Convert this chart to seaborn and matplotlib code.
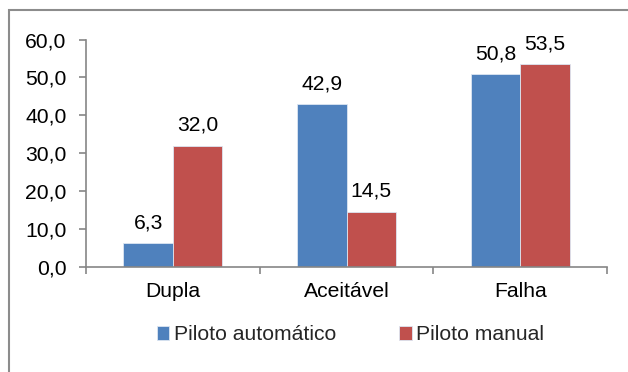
import matplotlib
matplotlib.use("Agg")
import matplotlib.pyplot as plt
from matplotlib.patches import Rectangle
from matplotlib.ticker import FuncFormatter, FixedLocator
import seaborn as sns
import pandas as pd

categories = ["Dupla", "Aceitável", "Falha"]
series_names = ["Piloto automático", "Piloto manual"]
automatico = [6.3, 42.9, 50.8]
manual = [32.0, 14.5, 53.5]
y_ticks = [0, 10, 20, 30, 40, 50, 60]

df = pd.DataFrame({
    "categoria": categories * 2,
    "serie": [series_names[0]] * 3 + [series_names[1]] * 3,
    "valor": automatico + manual,
})

sns.set_theme(style="white")
plt.rcParams["font.family"] = ["Liberation Sans", "DejaVu Sans"]
FS = 15.2

fig = plt.figure(figsize=(6.28, 3.72), dpi=100)
ax = fig.add_axes([86 / 628, 105 / 372, (607 - 86) / 628, (332.5 - 105) / 372])

palette = {series_names[0]: "#4F81BD", series_names[1]: "#C0504D"}
sns.barplot(data=df, x="categoria", y="valor", hue="serie", order=categories,
            hue_order=series_names, palette=palette, width=0.57, ax=ax,
            edgecolor="#dce6f2", linewidth=0.6, saturation=1, legend=True)

def virgula(v, _pos=None):
    return f"{v:.1f}".replace(".", ",")

for cont in ax.containers:
    ax.bar_label(cont, labels=[virgula(b.get_height()) for b in cont],
                 padding=8, fontsize=FS, color="black")

ax.set_xlim(-0.5, 2.5)
ax.set_ylim(0, 60)
ax.set_yticks(y_ticks)
ax.yaxis.set_major_formatter(FuncFormatter(virgula))
ax.set_xlabel("")
ax.set_ylabel("")

# category boundaries carry the visible tick marks
ax.xaxis.set_minor_locator(FixedLocator([-0.5, 0.5, 1.5, 2.5]))
ax.tick_params(axis="x", which="major", length=0, pad=11, labelsize=FS, colors="black")
ax.tick_params(axis="x", which="minor", length=5, width=1.2, color="#868686", bottom=True)
ax.tick_params(axis="y", which="major", length=5, width=1.2, color="#868686",
               pad=9, labelsize=FS, labelcolor="black", left=True)

for side in ["top", "right"]:
    ax.spines[side].set_visible(False)
for side in ["left", "bottom"]:
    ax.spines[side].set_color("#868686")
    ax.spines[side].set_linewidth(1.2)

leg = ax.legend(loc="upper center", bbox_to_anchor=(0.5 + 4 / 521, -0.22), ncol=2,
                frameon=False, fontsize=FS, handlelength=0.6, handleheight=0.6,
                handletextpad=0.2, columnspacing=3.0, borderaxespad=0)

fig.patches.append(Rectangle((9 / 628, -0.1), 1.2, 1.1 - 10 / 372,
                             transform=fig.transFigure, fill=False,
                             edgecolor="#8c8c8c", linewidth=1.5))

fig.savefig("out.png", dpi=100)
